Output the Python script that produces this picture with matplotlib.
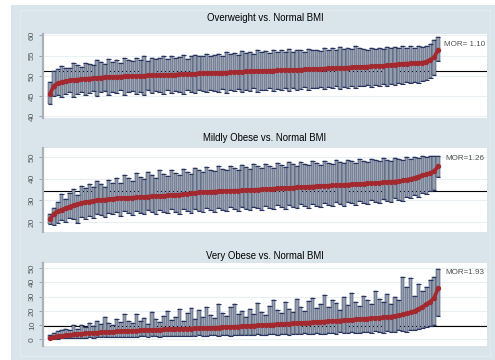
import numpy as np
import matplotlib
matplotlib.use("Agg")
import matplotlib.pyplot as plt
from matplotlib.patches import Rectangle

plt.rcParams['font.family'] = ['Liberation Sans', 'DejaVu Sans']

# panel titles, MOR labels and reference lines
titles = ["Overweight vs. Normal BMI", "Mildly Obese vs. Normal BMI", "Very Obese vs. Normal BMI"]
mor_labels = ["MOR= 1.10", "MOR=1.26", "MOR=1.93"]
ref_values = [51.2, 34.4, 9.6]
y_ticks = [[40, 45, 50, 55, 60], [20, 30, 40, 50], [0, 10, 20, 30, 40, 50]]
y_limits = [(39.6, 60.35), (15.5, 54.1), (-4.5, 53.9)]

# overweight: estimate, lower, upper (hospitals sorted by estimate)
ow_est = [45.6, 47.6, 48.2, 48.5, 48.7, 48.9, 49.0, 49.1, 49.2, 49.3,
          49.35, 49.4, 49.5, 49.6, 49.65, 49.7, 49.75, 49.8, 49.85, 49.9,
          49.9, 49.95, 50.0, 50.0, 50.05, 50.1, 50.1, 50.15, 50.2, 50.2,
          50.25, 50.3, 50.3, 50.35, 50.4, 50.4, 50.45, 50.5, 50.6, 50.6,
          50.65, 50.7, 50.7, 50.75, 50.8, 50.8, 50.85, 50.9, 51.0, 51.0,
          51.1, 51.1, 51.15, 51.2, 51.2, 51.25, 51.3, 51.3, 51.35, 51.4,
          51.4, 51.45, 51.5, 51.5, 51.55, 51.6, 51.6, 51.65, 51.7, 51.75,
          51.8, 51.85, 51.9, 51.9, 51.95, 52.0, 52.05, 52.1, 52.15, 52.2,
          52.25, 52.3, 52.35, 52.4, 52.45, 52.5, 52.6, 52.7, 52.8, 52.9,
          53.0, 53.05, 53.1, 53.15, 53.2, 53.3, 53.5, 54.0, 54.6, 56.4]
ow_lo = [43.1, 45.0, 45.4, 44.8, 45.6, 46.0, 44.9, 45.5, 46.1, 45.3,
         45.8, 46.2, 45.0, 45.9, 46.3, 45.4, 46.0, 45.7, 46.4, 45.2,
         45.9, 46.3, 45.6, 46.1, 45.3, 46.5, 45.8, 46.2, 46.0, 45.5,
         46.4, 45.7, 46.3, 46.0, 45.6, 46.6, 46.1, 45.8, 46.4, 46.2,
         45.9, 46.5, 46.3, 46.0, 46.7, 45.8, 46.4, 46.2, 46.8, 45.9,
         46.5, 46.3, 46.9, 46.1, 46.6, 46.4, 47.0, 46.2, 46.7, 46.5,
         46.9, 46.3, 47.1, 46.6, 46.8, 47.2, 46.5, 47.0, 46.9, 47.3,
         46.7, 47.2, 47.0, 47.4, 46.8, 47.3, 47.1, 47.6, 47.0, 47.5,
         47.4, 47.8, 47.2, 47.7, 47.5, 47.9, 47.6, 48.1, 47.8, 48.3,
         48.0, 48.4, 48.2, 48.6, 48.3, 48.8, 49.0, 49.6, 50.2, 53.6]
ow_hi = [48.5, 51.3, 51.6, 52.4, 52.0, 51.9, 53.2, 52.6, 52.3, 53.3,
         53.0, 52.7, 54.0, 53.4, 53.0, 54.1, 53.5, 53.9, 53.3, 54.5,
         54.0, 53.6, 54.4, 53.9, 54.8, 53.7, 54.4, 54.1, 54.4, 54.9,
         54.1, 54.9, 54.3, 54.7, 55.2, 54.2, 54.8, 55.2, 54.8, 55.0,
         55.4, 54.9, 55.1, 55.5, 54.9, 55.8, 55.3, 55.6, 55.2, 56.1,
         55.7, 55.9, 55.4, 56.3, 55.8, 56.1, 55.6, 56.4, 56.0, 56.3,
         55.9, 56.6, 55.9, 56.4, 56.3, 56.0, 56.7, 56.3, 56.5, 56.2,
         56.9, 56.5, 56.8, 56.4, 57.1, 56.7, 57.0, 56.6, 57.3, 56.9,
         56.6, 56.3, 57.0, 56.6, 56.9, 56.6, 57.1, 56.8, 57.2, 56.9,
         57.3, 57.0, 57.3, 57.0, 57.4, 57.1, 57.5, 58.0, 58.8, 59.5]

# mildly obese
mo_est = [21.5, 24.0, 25.0, 25.8, 26.5, 27.2, 27.8, 28.3, 28.8, 29.2,
          29.5, 29.8, 30.0, 30.2, 30.4, 30.6, 30.8, 30.9, 31.0, 31.1,
          31.2, 31.3, 31.4, 31.5, 31.6, 31.8, 31.9, 32.0, 32.1, 32.2,
          32.3, 32.4, 32.5, 32.7, 32.8, 33.0, 33.2, 33.4, 33.7, 33.8,
          33.9, 34.0, 34.1, 34.2, 34.3, 34.3, 34.4, 34.5, 34.5, 34.6,
          34.7, 34.8, 34.9, 35.0, 35.1, 35.2, 35.3, 35.4, 35.5, 35.6,
          35.7, 35.8, 35.9, 36.0, 36.1, 36.2, 36.3, 36.4, 36.5, 36.6,
          36.7, 36.8, 36.9, 37.0, 37.1, 37.2, 37.3, 37.4, 37.5, 37.6,
          37.7, 37.8, 37.9, 38.0, 38.1, 38.3, 38.4, 38.6, 38.7, 38.9,
          39.2, 39.5, 39.9, 40.4, 41.0, 41.5, 42.0, 42.6, 43.5, 45.6]
mo_lo = [19.0, 18.8, 19.5, 21.0, 20.2, 22.0, 21.4, 19.8, 22.6, 21.7,
         23.0, 22.1, 24.0, 23.3, 22.5, 24.4, 23.6, 24.8, 23.0, 25.2,
         24.1, 23.5, 25.3, 24.4, 23.8, 25.6, 24.6, 23.9, 25.8, 24.8,
         24.2, 25.9, 24.9, 23.8, 26.0, 25.1, 24.4, 26.2, 25.3, 24.7,
         26.3, 25.5, 24.9, 26.6, 25.7, 25.0, 26.8, 25.9, 25.3, 27.0,
         26.1, 25.4, 27.2, 26.3, 25.6, 27.4, 26.6, 25.9, 27.7, 26.8,
         26.2, 28.0, 27.1, 26.4, 28.2, 27.4, 26.7, 28.5, 27.6, 27.0,
         28.8, 27.9, 27.3, 29.1, 28.2, 27.6, 29.4, 28.6, 28.0, 29.8,
         28.9, 28.3, 30.2, 29.3, 28.8, 30.6, 29.8, 29.2, 31.1, 30.2,
         29.8, 31.7, 30.9, 32.4, 31.6, 33.3, 32.8, 34.2, 34.8, 40.8]
mo_hi = [24.0, 26.5, 29.5, 33.0, 30.8, 33.5, 35.2, 32.4, 36.8, 35.5,
         37.6, 36.0, 38.8, 37.5, 36.4, 39.6, 38.2, 40.4, 37.9, 41.8,
         40.2, 38.9, 42.4, 41.0, 39.8, 43.2, 41.6, 40.4, 43.8, 42.3,
         41.2, 44.1, 42.8, 41.7, 44.6, 43.3, 42.2, 45.0, 43.8, 42.9,
         45.3, 44.2, 43.4, 45.7, 44.6, 43.8, 46.0, 44.9, 44.0, 46.3,
         45.2, 44.4, 46.6, 45.6, 44.8, 46.9, 45.9, 45.1, 47.2, 46.3,
         45.5, 47.5, 46.6, 45.8, 47.8, 46.9, 46.2, 48.0, 47.2, 46.5,
         48.2, 47.4, 46.8, 48.5, 47.7, 47.1, 48.7, 48.0, 47.4, 49.0,
         48.2, 47.7, 49.2, 48.5, 48.0, 49.4, 48.8, 48.3, 49.6, 49.0,
         48.6, 49.8, 49.2, 50.0, 49.5, 50.3, 49.8, 50.5, 50.2, 50.6]

# very obese
vo_est = [0.8, 1.5, 2.0, 2.4, 2.8, 3.1, 3.4, 3.6, 3.9, 4.1,
          4.3, 4.5, 4.7, 4.9, 5.0, 5.2, 5.3, 5.5, 5.6, 5.8,
          5.9, 6.0, 6.1, 6.2, 6.4, 6.5, 6.6, 6.7, 6.8, 6.9,
          7.0, 7.1, 7.2, 7.3, 7.4, 7.5, 7.6, 7.7, 7.8, 7.9,
          8.0, 8.1, 8.2, 8.3, 8.4, 8.6, 8.7, 8.9, 9.0, 9.2,
          9.4, 9.5, 9.7, 9.8, 10.0, 10.1, 10.3, 10.4, 10.6, 10.7,
          10.9, 11.0, 11.2, 11.3, 11.5, 11.7, 11.8, 12.0, 12.2, 12.3,
          12.5, 12.7, 12.8, 13.0, 13.2, 13.4, 13.6, 13.8, 14.0, 14.2,
          14.4, 14.6, 14.8, 15.0, 15.2, 15.4, 15.7, 16.0, 16.4, 16.9,
          17.5, 18.2, 19.0, 20.0, 21.3, 22.8, 24.5, 26.5, 29.0, 35.9]
vo_lo = [0.1, 0.3, 0.5, 0.6, 0.8, 0.7, 1.0, 0.9, 1.2, 1.1,
         1.3, 1.2, 1.5, 1.4, 1.6, 1.5, 1.3, 1.8, 1.7, 1.5,
         1.9, 1.8, 1.6, 2.1, 2.0, 1.7, 2.2, 2.1, 1.9, 2.4,
         2.2, 2.0, 2.5, 2.3, 2.1, 2.6, 2.4, 2.2, 2.8, 2.5,
         2.3, 2.9, 2.7, 2.4, 3.0, 2.8, 2.6, 3.2, 2.9, 2.7,
         3.3, 3.1, 2.8, 3.5, 3.2, 3.0, 3.6, 3.4, 3.1, 3.8,
         3.5, 3.3, 4.0, 3.7, 3.4, 4.2, 3.9, 3.6, 4.4, 4.0,
         3.8, 4.6, 4.2, 3.9, 4.8, 4.4, 4.1, 5.0, 4.6, 4.3,
         5.2, 4.8, 4.5, 5.5, 5.0, 4.7, 5.8, 5.3, 5.0, 6.2,
         5.6, 5.3, 6.8, 6.2, 7.5, 8.0, 8.8, 9.6, 10.0, 16.6]
vo_hi = [3.2, 4.6, 5.5, 6.8, 7.2, 6.5, 9.8, 7.4, 10.2, 8.6,
         11.5, 9.4, 12.8, 10.6, 16.0, 11.2, 9.8, 14.2, 12.0, 17.5,
         13.0, 11.4, 17.8, 12.6, 15.2, 10.8, 19.0, 14.0, 12.2, 16.5,
         20.0, 13.5, 15.8, 21.2, 12.8, 18.2, 22.0, 14.6, 20.4, 16.0,
         23.0, 17.2, 14.8, 25.0, 18.5, 16.2, 22.8, 24.6, 17.6, 19.8,
         15.8, 21.4, 18.0, 25.6, 19.2, 16.8, 23.6, 28.0, 20.4, 18.2,
         26.2, 21.6, 19.0, 28.4, 22.4, 20.2, 27.2, 29.0, 21.8, 24.6,
         31.0, 22.6, 27.8, 25.2, 20.8, 29.6, 24.0, 32.4, 26.0, 23.2,
         30.2, 27.4, 25.0, 34.2, 28.6, 26.2, 31.6, 24.8, 29.8, 27.6,
         44.0, 37.0, 43.2, 30.4, 39.2, 34.0, 36.6, 42.0, 44.0, 49.5]

panels = [(ow_est, ow_lo, ow_hi), (mo_est, mo_lo, mo_hi), (vo_est, vo_lo, vo_hi)]

BG = '#dae4eb'
BAR = '#939dab'
NAVY = '#26345f'
RED = '#a3292f'

fig = plt.figure(figsize=(4.95, 3.6), dpi=100)
fig.patch.set_facecolor('white')
# graph region (light bluish gray) with small white margin
fig.patches.append(Rectangle((11 / 495, 0), 484 / 495, 355 / 360, transform=fig.transFigure,
                             facecolor=BG, edgecolor='none', zorder=-10))
fig.patches.append(Rectangle((20 / 495, 0.01), 470 / 495, 346 / 360, transform=fig.transFigure,
                             facecolor='none', edgecolor='#e6edf2', lw=0.6, zorder=-9))

# axes boxes (left, bottom, width, height) and title heights in pixels from top
boxes = [(43 / 495, 242 / 360, 444 / 495, 84 / 360),
         (43 / 495, 128 / 360, 444 / 495, 84 / 360),
         (43 / 495, 14.3 / 360, 444 / 495, 83 / 360)]
title_y = [18.3, 137.7, 255.7]

for i, (est, lo, hi) in enumerate(panels):
    ax = fig.add_axes(boxes[i])
    ax.set_facecolor('white')
    x = np.arange(1, len(est) + 1)
    est = np.array(est)
    lo = np.array(lo)
    hi = np.array(hi)

    ax.set_ylim(*y_limits[i])
    ax.set_xlim(-0.8, 112.5)
    ax.set_yticks(y_ticks[i])
    ax.grid(axis='y', color='#eaeff3', lw=0.8)
    ax.set_axisbelow(True)

    # confidence intervals: grey bars with navy edges and caps
    ax.bar(x, hi - lo, bottom=lo, width=0.82, color=BAR, edgecolor=NAVY, lw=0.35, zorder=2)
    ax.hlines(hi, x - 0.6, x + 0.6, color=NAVY, lw=0.8, zorder=3)
    ax.hlines(lo, x - 0.6, x + 0.6, color=NAVY, lw=0.8, zorder=3)

    ax.axhline(ref_values[i], color='black', lw=0.8, zorder=1)
    ax.plot(x, est, color=RED, lw=2.6, marker='o', ms=2.8, zorder=4)

    ax.text(0.995, 0.88, mor_labels[i], transform=ax.transAxes, ha='right', va='center',
            fontsize=5.8, color='#505050')

    for side in ['top', 'right', 'bottom']:
        ax.spines[side].set_visible(False)
    ax.spines['left'].set_color('#a9b2ba')
    ax.spines['left'].set_linewidth(1.6)
    ax.tick_params(axis='y', direction='out', length=3, width=0.6, color='#8d949a',
                   labelsize=6, labelcolor='#55595e', pad=2)
    for lab in ax.get_yticklabels():
        lab.set_rotation(90)
        lab.set_va('center')
    ax.set_xticks([])

    fig.text(265 / 495, 1 - title_y[i] / 360, titles[i], ha='center', va='center',
             fontsize=6.9, color='black')

fig.savefig('out.png', dpi=100, facecolor=fig.get_facecolor())
